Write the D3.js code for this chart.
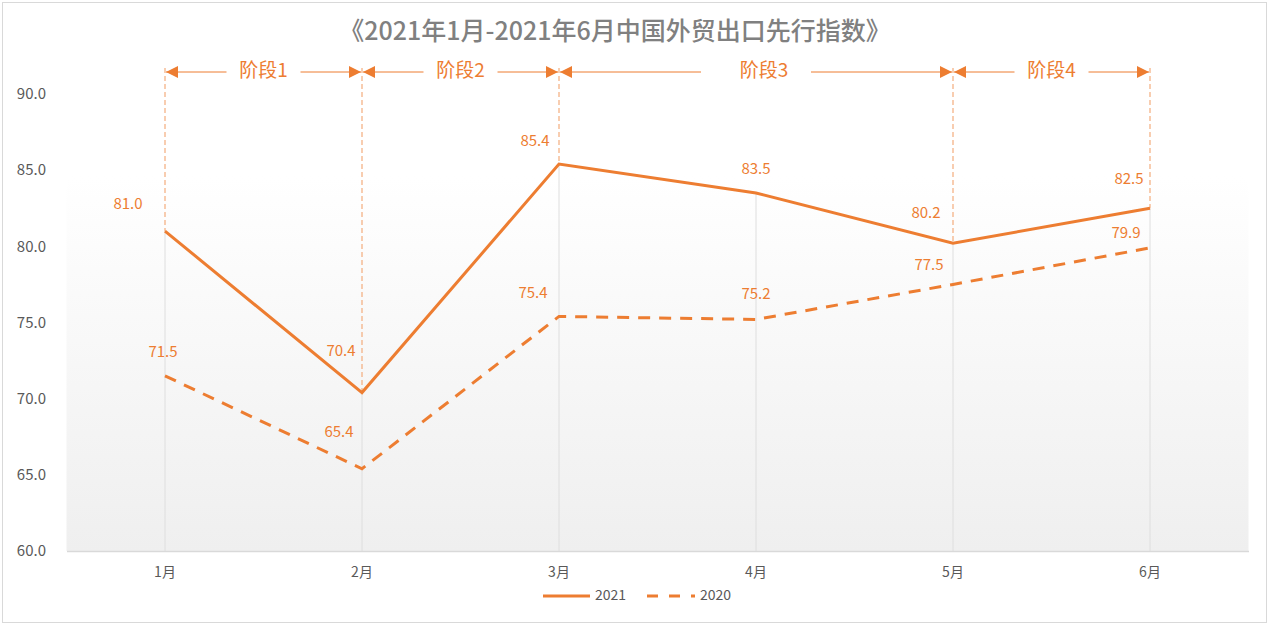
<!DOCTYPE html>
<html><head><meta charset="utf-8">
<script src="https://cdn.jsdelivr.net/npm/d3@7/dist/d3.min.js"></script>
<style>body{margin:0;background:#fff}svg{display:block}text{font-family:"Noto Sans CJK SC","Open Sans",sans-serif}</style>
</head><body><svg id="c" width="1274" height="629"></svg>
<script>
const title = "《2021年1月-2021年6月中国外贸出口先行指数》";
const months = ["1月","2月","3月","4月","5月","6月"];
const series2021 = [81.0, 70.4, 85.4, 83.5, 80.2, 82.5];
const series2020 = [71.5, 65.4, 75.4, 75.2, 77.5, 79.9];
const yTicks = [60, 65, 70, 75, 80, 85, 90];
const phaseNames = ["阶段1","阶段2","阶段3","阶段4"];
const phaseFrom = ["1月","2月","3月","5月"];
const phaseTo = ["2月","3月","5月","6月"];
const markerMonths = ["1月","2月","3月","5月","6月"];
// label offsets (layout)
const off2021 = [[-37,-26],[-21,-41],[-24,-22],[0,-23],[-27,-29],[-21,-28]];
const off2020 = [[-2,-23],[-23,-36],[-26,-22],[0,-25],[-24,-18],[-24,-14]];

const svg = d3.select("#c");
const orange = "#ed7d31";
const L = 66.5, R = 1248.5, T = 94, B = 551;
const x = d3.scaleBand().domain(months).range([L, R]);
const cx = m => x(m) + x.bandwidth()/2;
const y = d3.scaleLinear().domain([60, 90]).range([B, T]);

const defs = svg.append("defs");
const g = defs.append("linearGradient").attr("id","bg").attr("x1",0).attr("y1",0).attr("x2",0).attr("y2",1);
g.append("stop").attr("offset","0%").attr("stop-color","#ffffff");
g.append("stop").attr("offset","18%").attr("stop-color","#ffffff");
g.append("stop").attr("offset","100%").attr("stop-color","#efefef");
const mk = (id, orient) => defs.append("marker").attr("id",id).attr("viewBox","0 0 10 10")
  .attr("refX",10).attr("refY",5).attr("markerWidth",12).attr("markerHeight",12)
  .attr("markerUnits","userSpaceOnUse").attr("orient",orient)
  .append("path").attr("d","M0,0L10,5L0,10Z").attr("fill",orange);
mk("arrEnd","auto");

svg.append("rect").attr("x",2.5).attr("y",2.5).attr("width",1264).attr("height",620)
  .attr("fill","#fff").attr("stroke","#d9d9d9");
svg.append("rect").attr("x",L).attr("y",T).attr("width",R-L).attr("height",B-T).attr("fill","url(#bg)");

// drop lines from the 2021 series down to the axis
svg.append("g").selectAll("line").data(months).join("line")
  .attr("x1",d=>cx(d)).attr("x2",d=>cx(d)).attr("y1",(d,i)=>y(series2021[i])).attr("y2",B)
  .attr("stroke","#dedede").attr("stroke-width",1);

// bottom axis
const xa = svg.append("g").attr("transform",`translate(0,${B})`).call(d3.axisBottom(x).tickSize(0).tickPadding(16));
xa.select(".domain").attr("stroke","#d9d9d9").attr("stroke-width",1.5);
xa.selectAll("text").attr("font-size",14).attr("fill","#595959");

// y labels
const ya = svg.append("g").attr("transform",`translate(46,0)`).call(d3.axisLeft(y).tickValues(yTicks).tickSize(0).tickPadding(0).tickFormat(d3.format(".1f")));
ya.select(".domain").remove();
ya.selectAll("text").attr("font-size",15).attr("fill","#595959");

// phase marker dashed lines
const idx = m => months.indexOf(m);
svg.append("g").selectAll("line").data(markerMonths).join("line")
  .attr("x1",d=>cx(d)).attr("x2",d=>cx(d)).attr("y1",68).attr("y2",d=>y(series2021[idx(d)]))
  .attr("stroke","#f4ac7c").attr("stroke-width",1.2).attr("stroke-dasharray","5,3");

// lines
const line = d3.line().x((d,i)=>cx(months[i])).y(d=>y(d));
svg.append("path").datum(series2020).attr("d",line).attr("fill","none")
  .attr("stroke",orange).attr("stroke-width",3).attr("stroke-dasharray","12,9");
svg.append("path").datum(series2021).attr("d",line).attr("fill","none")
  .attr("stroke",orange).attr("stroke-width",3);

// data labels
const lab = (data, offs) => svg.append("g").selectAll("text").data(data).join("text")
  .attr("x",(d,i)=>cx(months[i])+offs[i][0]).attr("y",(d,i)=>y(d)+offs[i][1])
  .attr("text-anchor","middle").attr("dominant-baseline","middle")
  .attr("font-size",15).attr("fill",orange).text(d=>d.toFixed(1));
lab(series2021, off2021);
lab(series2020, off2020);

// phase arrows
const ay = 72;
phaseNames.forEach((name,i)=>{
  const x1 = cx(phaseFrom[i])+1, x2 = cx(phaseTo[i])-1;
  const mid = (x1+x2)/2;
  const halfGap = i===2 ? 55 : 37;
  svg.append("line").attr("x1",mid-halfGap).attr("x2",x1).attr("y1",ay).attr("y2",ay)
    .attr("stroke",orange).attr("stroke-width",1).attr("marker-end","url(#arrEnd)");
  svg.append("line").attr("x1",mid+halfGap).attr("x2",x2).attr("y1",ay).attr("y2",ay)
    .attr("stroke",orange).attr("stroke-width",1).attr("marker-end","url(#arrEnd)");
  svg.append("text").attr("x",mid+(i===2?8:0)).attr("y",ay).attr("text-anchor","middle")
    .attr("dominant-baseline","middle").attr("font-size",19).attr("fill",orange).text(name);
});

// title
svg.append("text").attr("x",615).attr("y",33).attr("text-anchor","middle").attr("dominant-baseline","middle")
  .attr("font-size",25).attr("font-weight",500).attr("fill","#808080").text(title);

// legend
const lg = svg.append("g").attr("transform","translate(0,596)");
lg.append("line").attr("x1",543).attr("x2",590).attr("stroke",orange).attr("stroke-width",3);
lg.append("text").attr("x",595).attr("y",0).attr("dominant-baseline","middle").attr("font-size",14).attr("fill","#595959").text("2021");
lg.append("line").attr("x1",647).attr("x2",695).attr("stroke",orange).attr("stroke-width",3).attr("stroke-dasharray","11,11");
lg.append("text").attr("x",700).attr("y",0).attr("dominant-baseline","middle").attr("font-size",14).attr("fill","#595959").text("2020");
</script></body></html>
